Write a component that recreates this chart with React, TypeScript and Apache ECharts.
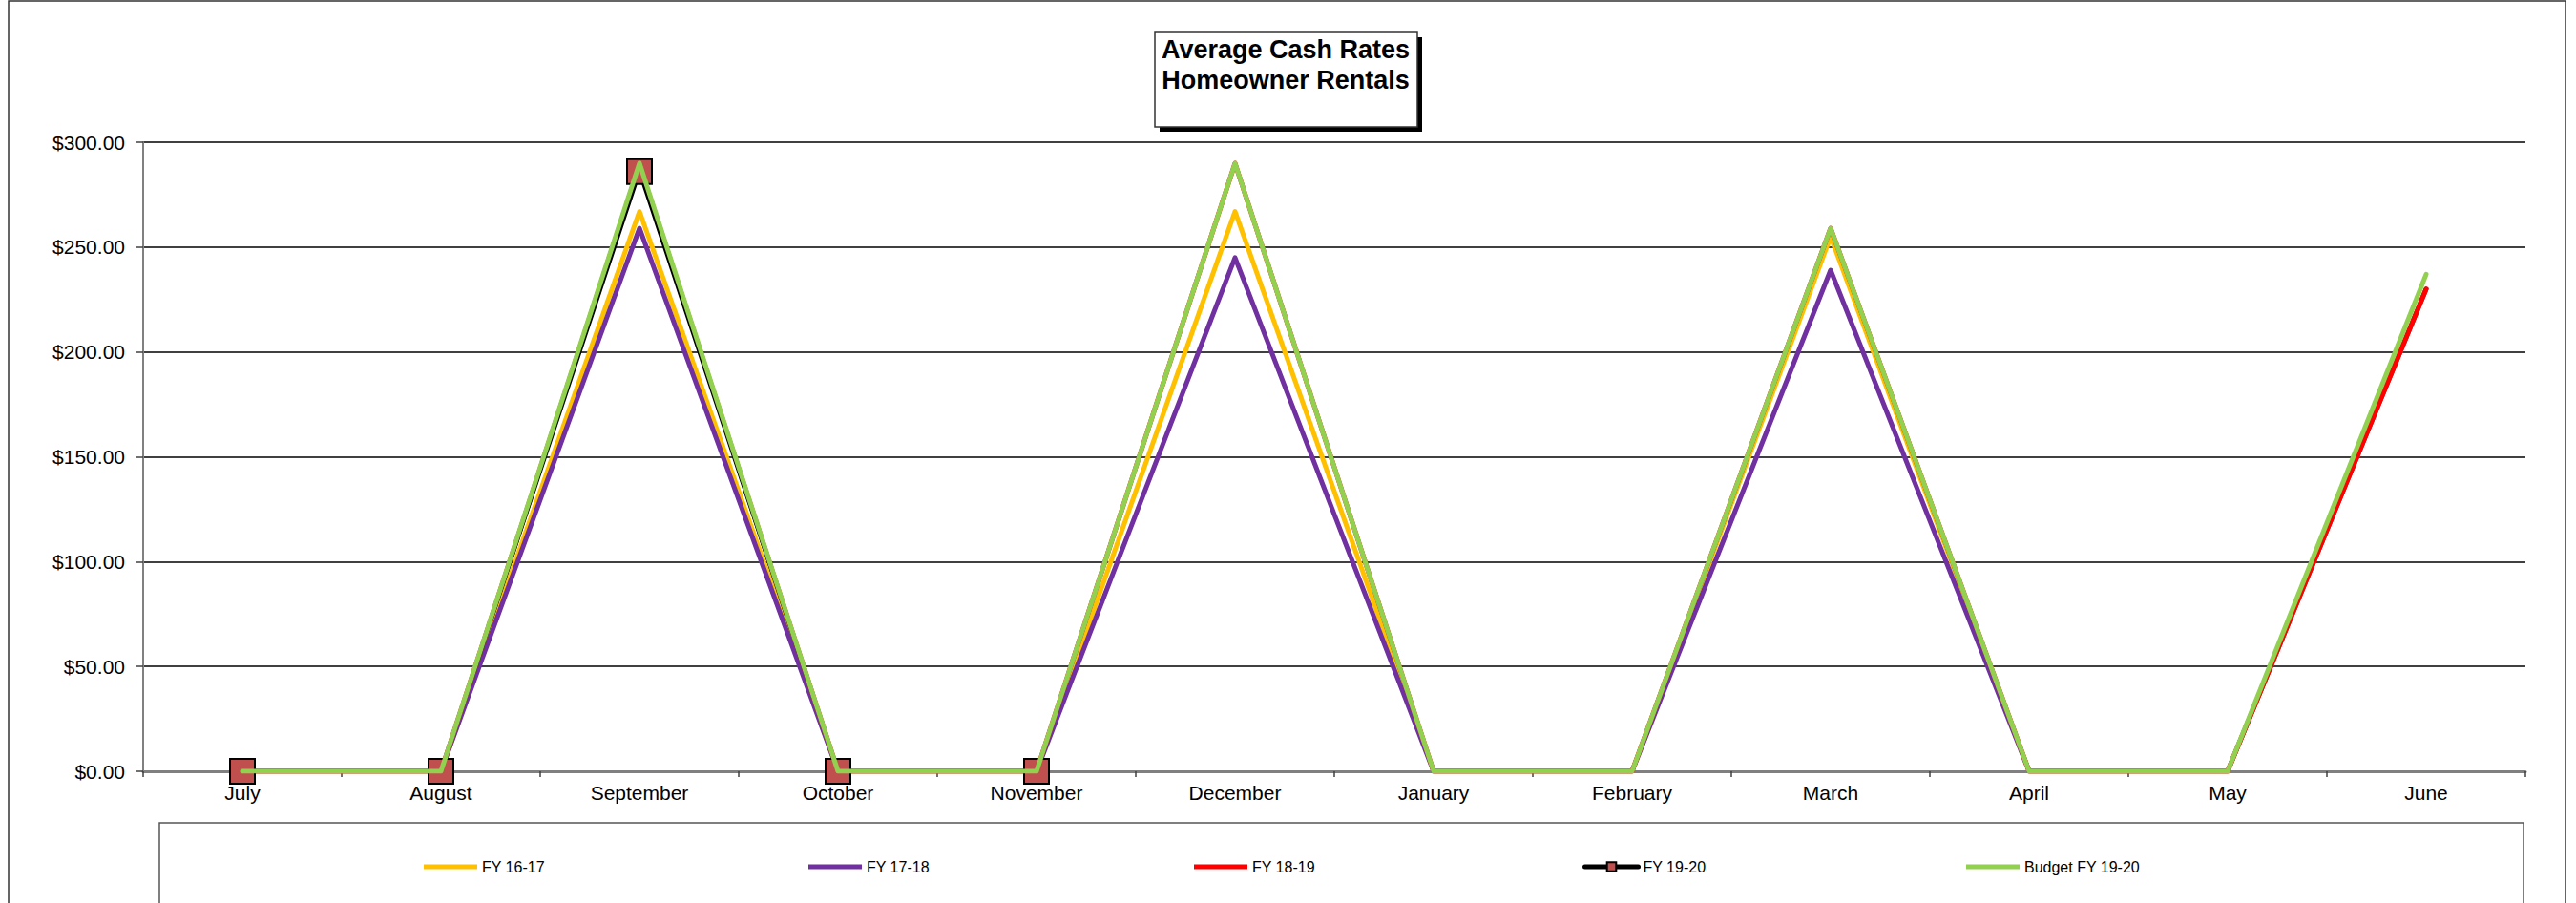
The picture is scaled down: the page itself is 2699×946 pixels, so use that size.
import React, { useEffect, useRef } from "react";
import * as echarts from "echarts";

const months = ["July", "August", "September", "October", "November", "December", "January", "February", "March", "April", "May", "June"];
const fy1617 = [0, 0, 267, 0, 0, 267, 0, 0, 255, 0, 0, 230];
const fy1718 = [0, 0, 259, 0, 0, 245, 0, 0, 239, 0, 0, 230];
const fy1819 = [0, 0, 289, 0, 0, 290, 0, 0, 259, 0, 0, 230];
const fy1920 = [0, 0, 286, 0, 0, null, null, null, null, null, null, null];
const budget1920 = [0, 0, 290, 0, 0, 290, 0, 0, 259, 0, 0, 237];
const seriesNames = ["FY 16-17", "FY 17-18", "FY 18-19", "FY 19-20", "Budget FY 19-20"];
const yTicks = [0, 50, 100, 150, 200, 250, 300];

const FONT = "'Liberation Sans', Arial, sans-serif";

export default function App() {
  const ref = useRef<HTMLDivElement>(null);
  useEffect(() => {
    document.body.style.margin = "0";
    if (!ref.current) return;
    const chart = echarts.init(ref.current, undefined, { renderer: "svg" });
    const colors = ["#FFC000", "#7030A0", "#FF0000", "#000000", "#92D050"];
    const datas = [fy1617, fy1718, fy1819, fy1920, budget1920];
    const legendLeft = [444, 847, 1251, 1658, 2060];
    const series = datas.map((d, i) => {
      const isMarker = i === 3;
      return {
        name: seriesNames[i],
        type: "line",
        data: d,
        symbol: isMarker ? "rect" : "none",
        symbolSize: isMarker ? 26 : 0,
        showSymbol: isMarker,
        connectNulls: false,
        z: 2 + i,
        itemStyle: isMarker
          ? { color: "#C0504D", borderColor: "#000", borderWidth: 2 }
          : { color: colors[i] },
        lineStyle: { color: colors[i], width: isMarker ? 4 : 5, cap: "round", join: "round" },
        emphasis: { disabled: true },
      };
    });
    const legends = seriesNames.map((n, i) => {
      const isMarker = i === 3;
      return {
        data: [isMarker ? { name: n } : { name: n, icon: "rect" }],
        left: legendLeft[i],
        top: 900,
        itemWidth: 56,
        itemHeight: isMarker ? 12 : 5,
        itemGap: 5,
        padding: 0,
        lineStyle: isMarker ? { width: 5 } : undefined,
        textStyle: { fontFamily: FONT, fontSize: 16, color: "#000" },
        selectedMode: false,
      };
    });
    chart.setOption({
      animation: false,
      color: colors,
      grid: { left: 150, right: 53, top: 149, bottom: 138, containLabel: false },
      xAxis: {
        type: "category",
        data: months,
        boundaryGap: true,
        axisLine: { show: true, lineStyle: { color: "#808080", width: 3 } },
        axisTick: { show: true, length: 6, lineStyle: { color: "#404040", width: 1.5 } },
        axisLabel: { fontFamily: FONT, fontSize: 21, color: "#000", margin: 12 },
      },
      yAxis: {
        type: "value",
        min: yTicks[0],
        max: yTicks[yTicks.length - 1],
        interval: 50,
        axisLine: { show: true, lineStyle: { color: "#808080", width: 2 } },
        axisTick: { show: true, length: 7, lineStyle: { color: "#404040", width: 1.5 } },
        axisLabel: {
          fontFamily: FONT,
          fontSize: 21,
          color: "#000",
          margin: 19,
          formatter: (v: number) => "$" + v.toFixed(2),
        },
        splitLine: { show: true, lineStyle: { color: "#000", width: 1.5 } },
      },
      legend: legends,
      graphic: [
        { type: "rect", z: -10, shape: { x: 9, y: 1, width: 2679, height: 1000 }, style: { fill: "#fff", stroke: "#333", lineWidth: 1.5 } },
        { type: "rect", z: -5, shape: { x: 167, y: 862, width: 2477, height: 200 }, style: { fill: "#fff", stroke: "#555", lineWidth: 1.5 } },
        { type: "rect", z: 10, shape: { x: 1215, y: 39, width: 275, height: 99 }, style: { fill: "#000" } },
        { type: "rect", z: 11, shape: { x: 1210, y: 34, width: 275, height: 99 }, style: { fill: "#fff", stroke: "#333", lineWidth: 1.5 } },
        {
          type: "text",
          z: 12,
          x: 1347,
          y: 36,
          style: {
            text: "Average Cash Rates\nHomeowner Rentals",
            font: "bold 27px " + FONT,
            fill: "#000",
            textAlign: "center",
            textVerticalAlign: "top",
            lineHeight: 32,
          },
        },
      ],
      series,
    });
    return () => chart.dispose();
  }, []);
  return <div ref={ref} style={{ width: 2699, height: 946 }} />;
}
